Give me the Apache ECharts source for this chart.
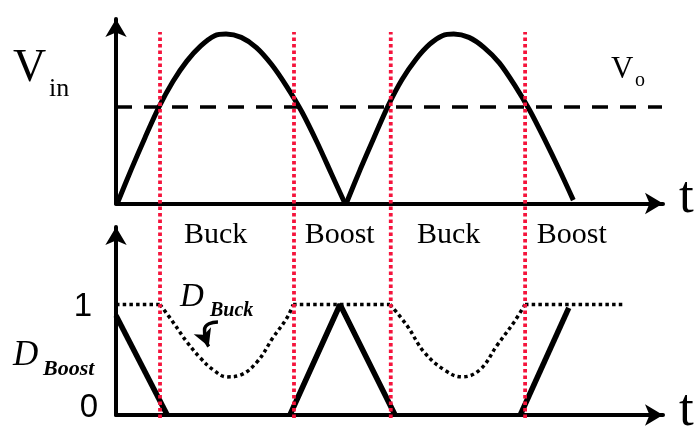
<!DOCTYPE html>
<html><head><meta charset="utf-8">
<script src="https://cdn.jsdelivr.net/npm/echarts@6/dist/echarts.min.js"></script>
<style>html,body{margin:0;padding:0;background:#fff}#c{width:697px;height:429px}</style>
</head><body><div id="c"></div>
<script>
// ---- data (x in phase units, y normalised) ----
const vinHump1 = [[1,0],[12,0.20],[23,0.39],[34,0.57],[45,0.72],[56,0.84],[67,0.93],[78,0.99],[87,1.00],[99,0.98],[111,0.92],[123,0.82],[135,0.69],[147,0.54],[159,0.36],[170,0.18],[181,0]];
const vinHump2 = [[182,0],[193,0.20],[204,0.39],[215,0.575],[226,0.73],[237,0.85],[248,0.94],[258,0.99],[267,1.00],[279,0.98],[291,0.92],[303,0.83],[315,0.70],[327,0.55],[339,0.375],[351,0.19],[361.5,0.02]];
const voLevel = 0.569;
const voStartX = 0, voEndX = 431.6;
const switchX = [34.8, 140.7, 217.2, 323.4];
const dBuckFlat1 = [[0,1],[34.8,1]];
const dBuckDip1 = [[34.8,1],[45.1,0.84],[56.1,0.66],[66.4,0.52],[76.7,0.41],[87.7,0.345],[98,0.36],[111.5,0.48],[124.1,0.70],[135.2,0.88],[140,1]];
const dBuckFlat2 = [[140,1],[216.6,1]];
const dBuckDip2 = [[216.6,1],[230,0.81],[243.5,0.57],[259.3,0.41],[273.5,0.345],[287.7,0.41],[301.2,0.63],[314.6,0.84],[323.3,1]];
const dBuckFlat3 = [[323.3,1],[400.8,1]];
const dBoost1 = [[0,0.9],[40.5,0]];
const dBoost2 = [[137.5,0],[177.1,1.0],[220.6,0]];
const dBoost3 = [[319.6,0],[357.9,0.97]];
const dTickLabels = [0, 1];
const regionLabels = ['Buck','Boost','Buck','Boost'];
const regionCenterX = [78.7, 176.8, 262.9, 360.3];
const regionLabelY = 1.631;
const buckArrowPath = [[80.6,0.842],[73.5,0.826],[70.0,0.77],[70.4,0.70],[73.3,0.62]];

// ---- chart ----
const SERIF = "'Liberation Serif','Times New Roman',serif";
const SANS = "'Liberation Sans',Arial,sans-serif";
const RED = '#f5143c';
const XMAX = 432.4;
const chart = echarts.init(document.getElementById('c'), null, {renderer:'canvas'});

const axisLine = {show:true, onZero:true, symbol:['none','arrow'], symbolSize:[16,18], lineStyle:{color:'#000', width:4}};
function xAx(i, show){return {type:'value', gridIndex:i, min:0, max:XMAX, show:show, axisLine:axisLine, axisTick:{show:false}, axisLabel:{show:false}, splitLine:{show:false}};}

const series = [];
function line(data, xi, opts){
  series.push(Object.assign({type:'line', xAxisIndex:xi, yAxisIndex:xi, data:data, symbol:'none', silent:true, animation:false}, opts));
}
line(vinHump1, 0, {smooth:0.3, lineStyle:{color:'#000', width:5}});
line(vinHump2, 0, {smooth:0.3, lineStyle:{color:'#000', width:5}});
line([[voStartX,voLevel],[voEndX,voLevel]], 0, {lineStyle:{color:'#000', width:3.5, type:[16,12]}});
const dotted = {color:'#000', width:3.5, type:[3.5,3.2]};
line(dBuckFlat1, 1, {lineStyle:dotted});
line(dBuckDip1, 1, {smooth:0.4, lineStyle:dotted});
line(dBuckFlat2, 1, {lineStyle:dotted});
line(dBuckDip2, 1, {smooth:0.4, lineStyle:dotted});
line(dBuckFlat3, 1, {lineStyle:dotted});
line(dBoost1, 1, {lineStyle:{color:'#000', width:5.5}});
line(dBoost2, 1, {lineStyle:{color:'#000', width:5.5}});
line(dBoost3, 1, {lineStyle:{color:'#000', width:5.5}});
switchX.forEach(function(x){
  line([[x,0],[x,1]], 2, {z:5, lineStyle:{color:RED, width:3.8, type:[3.5,3]}});
});
// curved pointer for D_Buck
const arrowData = buckArrowPath.map(function(p, i){
  if (i === buckArrowPath.length - 1) {
    return {value:p, symbol:'arrow', symbolSize:[14,17], symbolRotate:202, itemStyle:{color:'#000', opacity:1}};
  }
  return {value:p, symbol:'none'};
});
line(arrowData, 1, {smooth:0.5, showAllSymbol:true, itemStyle:{color:'#000'}, lineStyle:{color:'#000', width:3.5}});

series.push({type:'scatter', xAxisIndex:1, yAxisIndex:1, symbolSize:0, silent:true, animation:false,
  data: regionCenterX.map(function(x,i){return {value:[x, regionLabelY], name:regionLabels[i]};}),
  label:{show:true, position:'inside', formatter:'{b}', color:'#000', opacity:1, textBorderWidth:0, fontFamily:SERIF, fontSize:30}});

function txt(t, x, y, size, style, weight){
  return {type:'text', x:x, y:y, silent:true, style:{text:t, fill:'#000', fontFamily:SERIF, fontSize:size, fontStyle:style||'normal', fontWeight:weight||'normal', textVerticalAlign:'middle'}};
}

chart.setOption({
  backgroundColor:'#fff',
  animation:false,
  grid:[
    {left:116, top:19, width:547, height:184.5},
    {left:116, top:227, width:547, height:188},
    {left:116, top:32, width:547, height:386}
  ],
  xAxis:[xAx(0,true), xAx(1,true), xAx(2,false)],
  yAxis:[
    {type:'value', gridIndex:0, min:0, max:1.0885, axisLine:axisLine, axisTick:{show:false}, axisLabel:{show:false}, splitLine:{show:false}},
    {type:'value', gridIndex:1, min:0, max:1.7014, interval:1, axisLine:axisLine, axisTick:{show:false}, splitLine:{show:false},
      axisLabel:{show:true, margin:18, color:'#000', fontFamily:SANS, fontSize:33,
        customValues: dTickLabels,
        formatter:function(v){return v===0 ? '{z|0}' : '{o|'+v+'}';},
        rich:{z:{fontFamily:SANS, fontSize:33, color:'#000', padding:[0,0,14,0]}, o:{fontFamily:SANS, fontSize:33, color:'#000', padding:[5,6,0,0]}}}},
    {type:'value', gridIndex:2, min:0, max:1, show:false}
  ],
  series:series,
  graphic:[
    txt('V', 13, 69.4, 46),
    txt('in', 49, 89.2, 26),
    txt('V', 611, 69.5, 31),
    txt('o', 635, 81.2, 20),
    txt('t', 679, 198, 53),
    txt('t', 679, 411, 53),
    txt('D', 13, 356, 35, 'italic'),
    txt('Boost', 43, 369.5, 22, 'italic', 'bold'),
    txt('D', 180, 297.8, 33, 'italic'),
    txt('Buck', 210, 311.2, 20, 'italic', 'bold')
  ]
});
</script></body></html>
